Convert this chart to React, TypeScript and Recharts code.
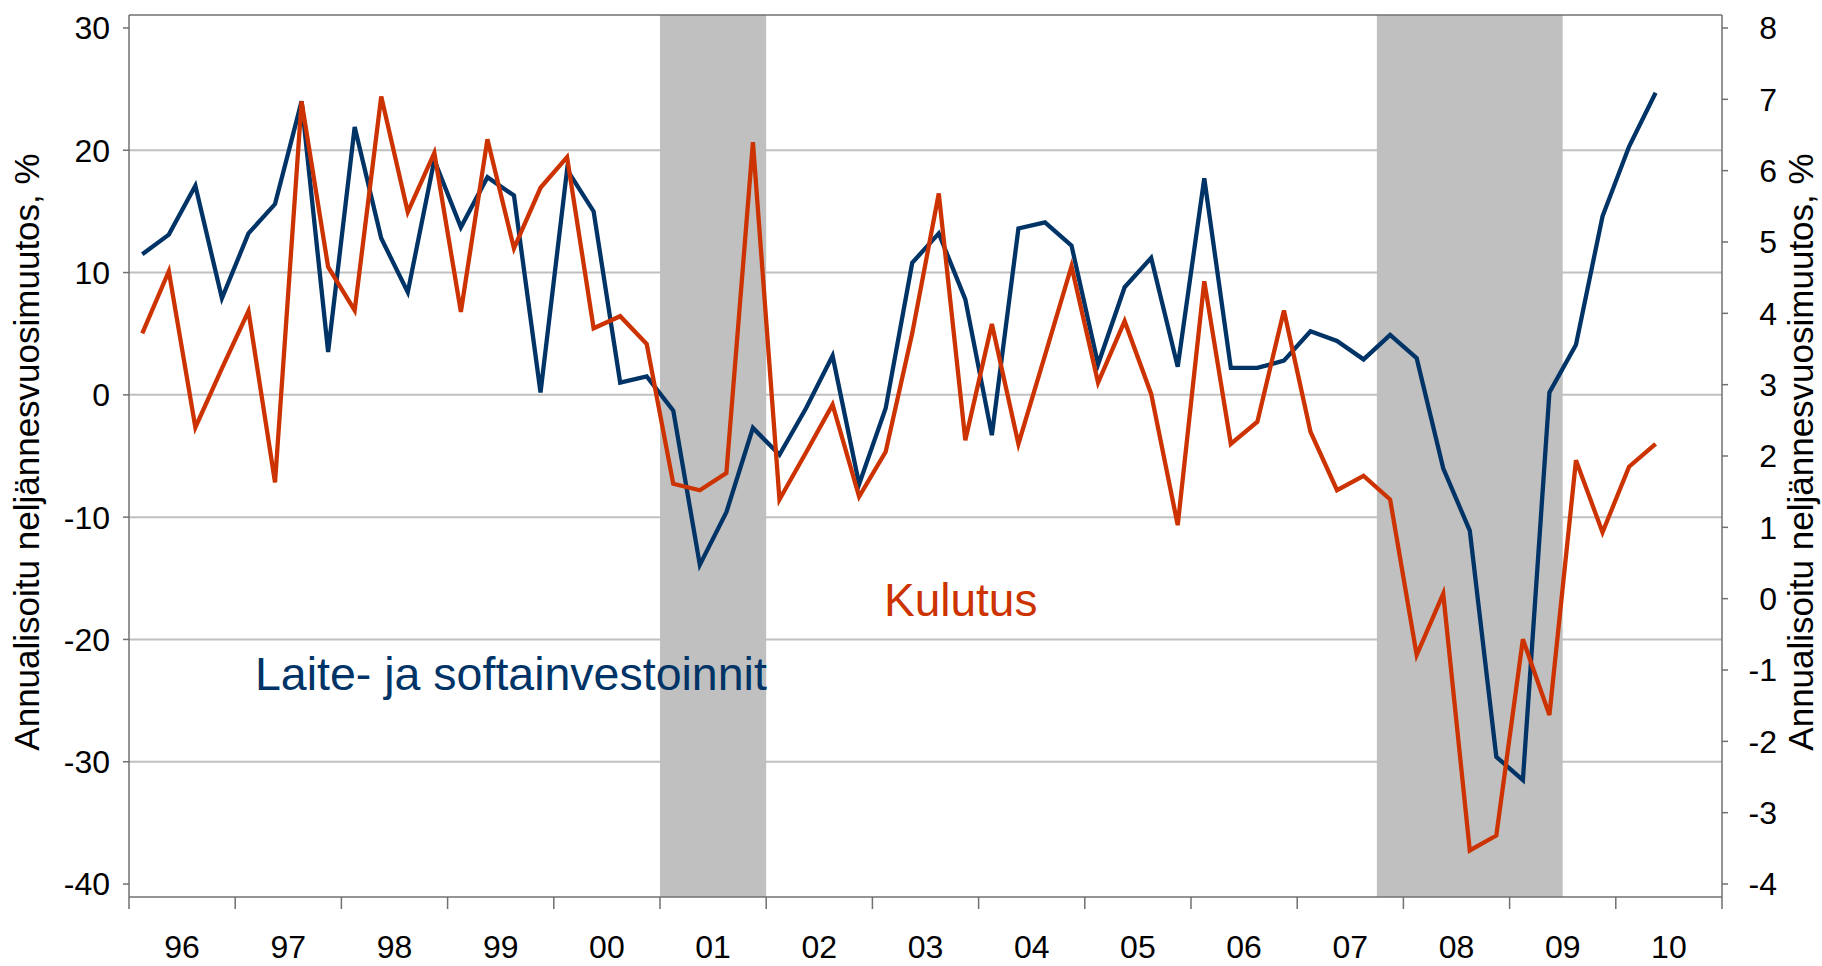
import { LineChart, Line, XAxis, YAxis, CartesianGrid, ReferenceArea, ReferenceLine } from "recharts";

// quarterly data 1996Q1 - 2010Q2, axis runs to 2010Q4
const years = ["96", "97", "98", "99", "00", "01", "02", "03", "04", "05", "06", "07", "08", "09", "10"];
const quarters = years.flatMap((y) => ["Q1", "Q2", "Q3", "Q4"].map((q) => `${y}${q}`));

// Laite- ja softainvestoinnit (left axis)
const investment = [
  11.5, 13.1, 17.1, 7.9, 13.2, 15.6, 24.0, 3.5, 21.9, 12.8,
  8.4, 19.2, 13.7, 17.8, 16.3, 0.2, 18.4, 15.0, 1.0, 1.5,
  -1.3, -13.9, -9.6, -2.7, -4.9, -1.1, 3.2, -7.3, -1.1, 10.8,
  13.2, 7.8, -3.3, 13.6, 14.1, 12.2, 2.5, 8.8, 11.2, 2.3,
  17.7, 2.2, 2.2, 2.8, 5.2, 4.4, 2.9, 4.9, 3.0, -6.0,
  -11.1, -29.6, -31.5, 0.2, 4.1, 14.6, 20.3, 24.7,
];

// Kulutus (right axis)
const consumption = [
  3.72, 4.59, 2.4, 3.23, 4.03, 1.63, 6.97, 4.65, 4.04, 7.04,
  5.42, 6.25, 4.02, 6.44, 4.91, 5.76, 6.19, 3.79, 3.96, 3.57,
  1.61, 1.52, 1.76, 6.4, 1.39, 2.05, 2.72, 1.43, 2.06, 3.72,
  5.68, 2.22, 3.85, 2.17, 3.41, 4.66, 3.03, 3.89, 2.87, 1.03,
  4.45, 2.17, 2.48, 4.04, 2.34, 1.52, 1.72, 1.39, -0.79, 0.07,
  -3.53, -3.32, -0.57, -1.63, 1.94, 0.93, 1.85, 2.17,
];

const recessions: [string, string][] = [
  ["01Q1", "01Q4"],
  ["07Q4", "09Q2"],
];

const leftTicks = [-40, -30, -20, -10, 0, 10, 20, 30];
const rightTicks = [-4, -3, -2, -1, 0, 1, 2, 3, 4, 5, 6, 7, 8];
const gridValues = [-30, -20, -10, 0, 10, 20];

const W = 1822;
const H = 966;
const LEFT_W = 129;
const RIGHT_W = 100;
const X_H = 69;
const PLOT_W = W - LEFT_W - RIGHT_W;
const HALF_YEAR = PLOT_W / years.length / 2;

const LEFT_DOMAIN: [number, number] = [-41.06, 31.06];
const RIGHT_DOMAIN: [number, number] = [-4.182, 8.182];

const FONT = '"Liberation Sans", Arial, sans-serif';
const BLUE = "#003366";
const ORANGE = "#CC3300";
const AXIS = "#707070";

const data = investment.map((v, i) => ({
  t: i + 0.5,
  q: quarters[i],
  inv: v,
  cons: consumption[i],
}));

const yearTicks = years.map((_, k) => k * 4).concat(quarters.length);

function YearTick({ x, y, payload }: any) {
  const k = Math.round(payload.value / 4);
  if (k >= years.length) return null;
  return (
    <text x={x + HALF_YEAR} y={y} dy="0.71em" textAnchor="middle" fill="#000" fontSize={32}>
      {years[k]}
    </text>
  );
}

function RightTick({ x, y, payload }: any) {
  return (
    <text x={x + 47} y={y} dy="0.355em" textAnchor="end" fill="#000" fontSize={32}>
      {payload.value}
    </text>
  );
}

export default function App() {
  return (
    <div style={{ position: "absolute", left: 0, top: 0, width: W, height: H, background: "#fff", fontFamily: FONT }}>
      <LineChart width={W} height={H} data={data} margin={{ top: 15, right: 0, bottom: 0, left: 0 }}>
        <CartesianGrid
          xAxisId="q"
          yAxisId="left"
          vertical={false}
          horizontalValues={gridValues}
          stroke="#C0C0C0"
          strokeWidth={2}
        />
        <XAxis
          xAxisId="q"
          type="number"
          dataKey="t"
          domain={[0, quarters.length]}
          ticks={yearTicks}
          interval={0}
          allowDataOverflow
          height={X_H}
          tickSize={12}
          tickMargin={26}
          tick={<YearTick />}
          axisLine={{ stroke: AXIS, strokeWidth: 1.5 }}
          tickLine={{ stroke: AXIS, strokeWidth: 1.5 }}
        />
        <YAxis
          yAxisId="left"
          orientation="left"
          width={LEFT_W}
          domain={LEFT_DOMAIN}
          ticks={leftTicks}
          interval={0}
          allowDataOverflow
          tickSize={6}
          tickMargin={13}
          tick={{ fill: "#000", fontSize: 32 }}
          axisLine={{ stroke: AXIS, strokeWidth: 1.5 }}
          tickLine={{ stroke: AXIS, strokeWidth: 1.5 }}
        />
        <YAxis
          yAxisId="right"
          orientation="right"
          width={RIGHT_W}
          domain={RIGHT_DOMAIN}
          ticks={rightTicks}
          interval={0}
          allowDataOverflow
          tickSize={6}
          tickMargin={2}
          tick={<RightTick />}
          axisLine={{ stroke: AXIS, strokeWidth: 1.5 }}
          tickLine={{ stroke: AXIS, strokeWidth: 1.5 }}
        />
        {recessions.map(([a, b]) => (
          <ReferenceArea
            key={a}
            xAxisId="q"
            yAxisId="left"
            x1={quarters.indexOf(a)}
            x2={quarters.indexOf(b) + 1}
            fill="#C0C0C0"
            fillOpacity={1}
            stroke="none"
          />
        ))}
        <ReferenceLine xAxisId="q" yAxisId="left" y={LEFT_DOMAIN[1]} stroke={AXIS} strokeWidth={1.5} />
        <Line
          xAxisId="q"
          yAxisId="left"
          type="linear"
          dataKey="inv"
          stroke={BLUE}
          strokeWidth={4.3}
          dot={false}
          isAnimationActive={false}
        />
        <Line
          xAxisId="q"
          yAxisId="right"
          type="linear"
          dataKey="cons"
          stroke={ORANGE}
          strokeWidth={4.3}
          dot={false}
          isAnimationActive={false}
        />
      </LineChart>
      <svg width={W} height={H} style={{ position: "absolute", left: 0, top: 0, pointerEvents: "none" }}>
        <text x={255} y={690} fontSize={46.5} fill={BLUE}>
          Laite- ja softainvestoinnit
        </text>
        <text x={884} y={616} fontSize={46} fill={ORANGE}>
          Kulutus
        </text>
        <text transform="translate(39 452) rotate(-90)" textAnchor="middle" fontSize={35} fill="#000">
          Annualisoitu neljännesvuosimuutos, %
        </text>
        <text transform="translate(1813 452) rotate(-90)" textAnchor="middle" fontSize={35} fill="#000">
          Annualisoitu neljännesvuosimuutos, %
        </text>
      </svg>
    </div>
  );
}
